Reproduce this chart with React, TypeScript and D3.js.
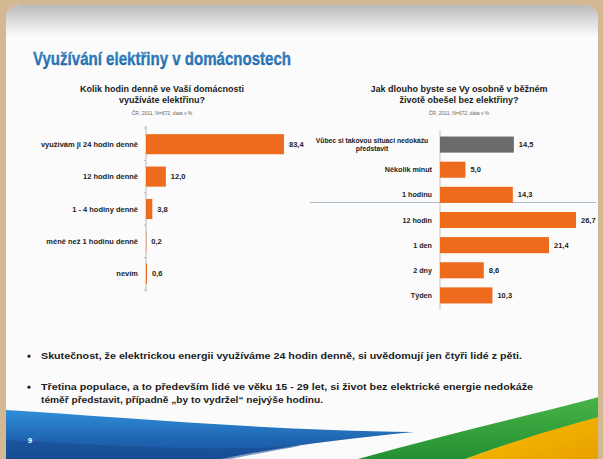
import React from "react";
import * as d3 from "d3";

const leftCategories = [
  "využívám ji 24 hodin denně",
  "12 hodin denně",
  "1 - 4 hodiny denně",
  "méně než 1 hodinu denně",
  "nevím",
];
const leftValues = [83.4, 12.0, 3.8, 0.2, 0.6];

const rightCategories = [
  "Vůbec si takovou situaci nedokážu|představit",
  "Několik minut",
  "1 hodinu",
  "12 hodin",
  "1 den",
  "2 dny",
  "Týden",
];
const rightValues = [14.5, 5.0, 14.3, 26.7, 21.4, 8.6, 10.3];
const rightColors = ["#6b6b6b", "#ee6a1c", "#ee6a1c", "#ee6a1c", "#ee6a1c", "#ee6a1c", "#ee6a1c"];

const title = "Využívání elektřiny v domácnostech";
const leftQuestion = ["Kolik hodin denně ve Vaší domácnosti", "využíváte elektřinu?"];
const rightQuestion = ["Jak dlouho byste se Vy osobně v běžném", "životě obešel bez elektřiny?"];
const sourceNote = "ČR, 2011, N=672, data v %";
const bullets = [
  ["Skutečnost, že elektrickou energii využíváme 24 hodin denně, si uvědomují jen čtyři lidé z pěti."],
  [
    "Třetina populace, a to především lidé ve věku 15 - 29 let, si život bez elektrické energie nedokáže",
    "téměř představit, případně „by to vydržel“ nejvýše hodinu.",
  ],
];

const fmt = (v: number) => d3.format(".1f")(v).replace(".", ",");
const FONT = "'Liberation Sans', Arial, sans-serif";
const ORANGE = "#ee6a1c";

export default function App() {
  const W = 603;
  const H = 459;

  const lx = d3.scaleLinear().domain([0, 100]).range([146, 311.5]);
  const ly = d3.scaleBand<string>().domain(leftCategories).range([128, 290]).paddingInner(0.38).paddingOuter(0.19);

  const rx = d3.scaleLinear().domain([0, 30]).range([440, 592.8]);
  const ry = d3.scaleBand<string>().domain(rightCategories).range([132, 308]).paddingInner(0.36).paddingOuter(0.18);

  return (
    <div style={{ position: "absolute", left: 0, top: 0 }}>
      <svg width={W} height={H} viewBox={`0 0 ${W} ${H}`} style={{ display: "block" }}>
        <defs>
          <linearGradient id="topband" x1="0" y1="0" x2="0" y2="1">
            <stop offset="0" stopColor="#b9b9b9" />
            <stop offset="0.5" stopColor="#dedede" />
            <stop offset="1" stopColor="#ffffff" />
          </linearGradient>
          <linearGradient id="titleg" x1="0" y1="0" x2="0" y2="1">
            <stop offset="0" stopColor="#3d93d6" />
            <stop offset="1" stopColor="#1d64a8" />
          </linearGradient>
          <linearGradient id="blueg" x1="0" y1="0" x2="0" y2="1">
            <stop offset="0" stopColor="#2f8fd8" />
            <stop offset="0.5" stopColor="#1f64b0" />
            <stop offset="1" stopColor="#17498e" />
          </linearGradient>
          <linearGradient id="greeng" x1="0" y1="0" x2="0" y2="1">
            <stop offset="0" stopColor="#48b548" />
            <stop offset="1" stopColor="#1f8a2e" />
          </linearGradient>
          <linearGradient id="yellowg" x1="0" y1="0" x2="1" y2="1">
            <stop offset="0" stopColor="#f6c400" />
            <stop offset="1" stopColor="#e89a00" />
          </linearGradient>
          <clipPath id="slideclip">
            <rect x={6} y={5} width={592} height={470} rx={14} />
          </clipPath>
        </defs>

        {/* page background */}
        <rect x={0} y={0} width={W} height={H} fill="#d2b893" />
        <g clipPath="url(#slideclip)">
          <rect x={5} y={5} width={593} height={470} fill="#fbfbfb" />
          <rect x={5} y={5} width={593} height={34} fill="url(#topband)" />

          {/* bottom swooshes */}
          <path d="M5,410 C120,417 260,430 414,432 C330,440 240,452 175,470 L5,470 Z" fill="url(#blueg)" />
          <path d="M5,440 C100,445 200,452 300,446 C250,455 210,462 190,470 L5,470 Z" fill="#17498e" opacity={0.55} />
          <path d="M320,470 C420,440 520,418 610,394 L610,414 C520,440 470,455 440,470 Z" fill="url(#greeng)" />
          <path d="M440,470 C480,452 540,432 610,414 L610,470 Z" fill="url(#yellowg)" />
        </g>

        {/* title */}
        <text x={33} y={65} fontFamily={FONT} fontWeight="bold" fontSize={18} fill="url(#titleg)" stroke="#1d5f9f" strokeWidth={0.3} textLength={258} lengthAdjust="spacingAndGlyphs">
          {title}
        </text>

        {/* left chart headings */}
        {leftQuestion.map((t, i) => (
          <text key={i} x={162} y={92 + i * 11} textAnchor="middle" fontFamily={FONT} fontWeight="bold" fontSize={9} fill="#1c1c1c">
            {t}
          </text>
        ))}
        <text x={162} y={115} textAnchor="middle" fontFamily={FONT} fontSize={5} fill="#666">
          {sourceNote}
        </text>

        {/* right chart headings */}
        {rightQuestion.map((t, i) => (
          <text key={i} x={459} y={92 + i * 11} textAnchor="middle" fontFamily={FONT} fontWeight="bold" fontSize={9} fill="#1c1c1c">
            {t}
          </text>
        ))}
        <text x={459} y={115} textAnchor="middle" fontFamily={FONT} fontSize={5} fill="#666">
          {sourceNote}
        </text>

        {/* left chart */}
        <g>
          <line x1={lx(0)} x2={lx(0)} y1={126} y2={292} stroke="#b8b8b8" strokeWidth={1} />
          {d3.range(leftCategories.length + 1).map((i) => {
            const y = 128 + i * ly.step();
            return <line key={i} x1={lx(0) - 2} x2={lx(0)} y1={y} y2={y} stroke="#b8b8b8" />;
          })}
          {leftCategories.map((c, i) => {
            const y = ly(c)!;
            const h = ly.bandwidth();
            return (
              <g key={c}>
                <rect x={lx(0)} y={y} width={lx(leftValues[i]) - lx(0)} height={h} fill={ORANGE} />
                <text x={138} y={y + h / 2} dy="0.35em" textAnchor="end" fontFamily={FONT} fontWeight="bold" fontSize={7.5} fill="#222">
                  {c}
                </text>
                <text x={lx(leftValues[i]) + 5} y={y + h / 2} dy="0.35em" fontFamily={FONT} fontWeight="bold" fontSize={7.5} fill="#222">
                  {fmt(leftValues[i])}
                </text>
              </g>
            );
          })}
        </g>

        {/* right chart */}
        <g>
          <line x1={310} x2={596} y1={202.5} y2={202.5} stroke="#a9b9cc" strokeWidth={1} />
          <line x1={rx(0)} x2={rx(0)} y1={130} y2={310} stroke="#c4c4c4" strokeWidth={1} />
          {rightCategories.map((c, i) => {
            const y = ry(c)!;
            const h = ry.bandwidth();
            const lines = c.split("|");
            return (
              <g key={c}>
                <rect x={rx(0)} y={y} width={rx(rightValues[i]) - rx(0)} height={h} fill={rightColors[i]} />
                {lines.length === 1 ? (
                  <text x={432} y={y + h / 2} dy="0.35em" textAnchor="end" fontFamily={FONT} fontWeight="bold" fontSize={7.2} fill="#222">
                    {c}
                  </text>
                ) : (
                  lines.map((t, j) => (
                    <text key={j} x={372} y={y + h / 2 + (j - (lines.length - 1) / 2) * 8} dy="0.35em" textAnchor="middle" fontFamily={FONT} fontWeight="bold" fontSize={6.8} fill="#222">
                      {t}
                    </text>
                  ))
                )}
                <text x={rx(rightValues[i]) + 5} y={y + h / 2} dy="0.35em" fontFamily={FONT} fontWeight="bold" fontSize={7.5} fill="#222">
                  {fmt(rightValues[i])}
                </text>
              </g>
            );
          })}
        </g>

        {/* bullets */}
        {bullets.map((b, i) => {
          const y0 = i === 0 ? 359 : 390;
          return (
            <g key={i}>
              <circle cx={29} cy={y0 - 2.8} r={1.6} fill="#222" />
              {b.map((t, j) => (
                <text key={j} x={41} y={y0 + j * 12.5} fontFamily={FONT} fontWeight="bold" fontSize={9} fill="#1c1c1c" textLength={j === 0 ? (i === 0 ? 481 : 492) : 282} lengthAdjust="spacingAndGlyphs">
                  {t}
                </text>
              ))}
            </g>
          );
        })}

        {/* page number */}
        <text x={30} y={443} fontFamily={FONT} fontWeight="bold" fontSize={8} fill="#ffffff" textAnchor="middle">
          9
        </text>
      </svg>
    </div>
  );
}
